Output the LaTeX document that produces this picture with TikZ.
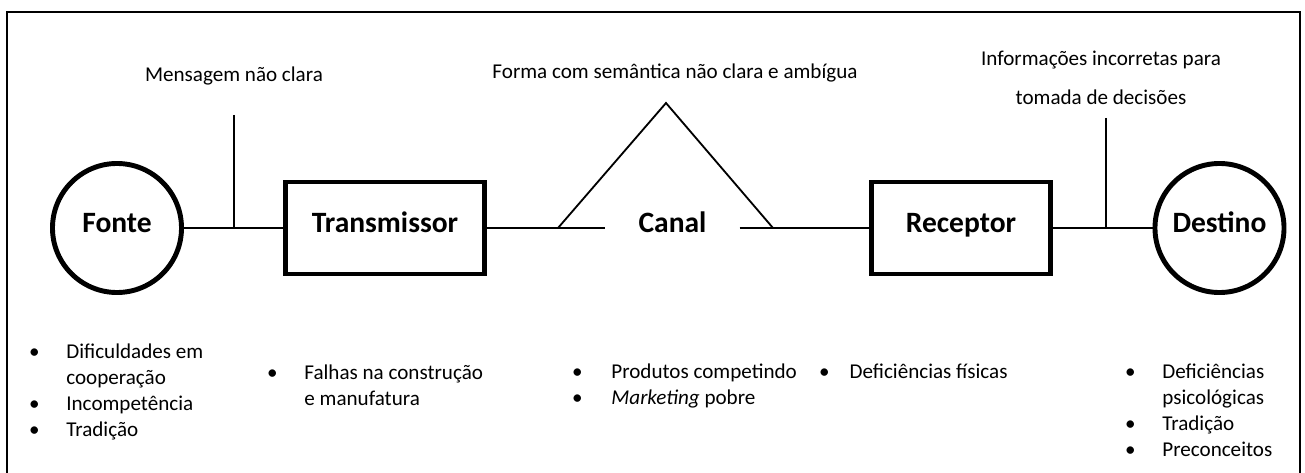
\documentclass[tikz,border=0pt]{standalone}
\usepackage{fontspec}
\setmainfont{Carlito}
\usetikzlibrary{positioning}

\begin{document}
\begin{tikzpicture}[x=0.025cm, y=0.025cm, thick]

   \tikzstyle{circ}=[circle, draw, line width=3.5pt, minimum size=3.225cm, inner sep=0pt, text height=0.65em, text depth=0pt, font=\fontsize{21}{24}\selectfont\bfseries]
   \tikzstyle{bloco}=[rectangle, draw, line width=3.5pt, minimum height=2.3cm, inner sep=0pt, text height=0.65em, text depth=0pt, font=\fontsize{21}{24}\selectfont\bfseries]
   \tikzstyle{rotulo}=[inner sep=0pt, align=center, font=\fontsize{15}{27.6}\selectfont]
   \tikzstyle{lista}=[anchor=north west, inner sep=0pt, font=\fontsize{15}{18.4}\selectfont]
   \tikzstyle{fio}=[line width=1.3pt]

   \useasboundingbox (0,0) rectangle (1305,-473);
   \draw[line width=1.5pt] (7,-473) -- (7,-12) -- (1300,-12) -- (1300,-473);

   % elementos do processo
   \node[circ] (fonte) at (117,-228) {Fonte};
   \node[bloco, minimum width=4.975cm] (trans) at (385,-228) {Transmissor};
   \node[bloco, minimum width=4.475cm] (recep) at (961,-228) {Receptor};
   \node[circ] (destino) at (1219.5,-228) {Destino};
   \node[inner sep=0pt, minimum width=3.325cm, text height=0.65em, text depth=0pt, font=\fontsize{21}{24}\selectfont\bfseries] (canal) at (672.5,-228) {Canal};

   % canal
   \coordinate (pe1) at (558,-228);
   \coordinate (topo) at (666,-103);
   \coordinate (pe2) at (773,-228);
   \draw[fio] (fonte) -- (trans);
   \draw[fio] (trans) -- (pe1) -- (canal.west);
   \draw[fio] (canal.east) -- (pe2) -- (recep);
   \draw[fio] (pe1) -- (topo) -- (pe2);
   \draw[fio] (recep) -- (destino);

   % ruidos
   \coordinate (r1) at (234,-115);
   \coordinate (r2) at (1106,-118);
   \draw[fio] (r1) -- (r1 |- fonte.east);
   \draw[fio] (r2) -- (r2 |- destino.west);
   \node[rotulo] (lmsg) at (234,-76) {Mensagem não clara};
   \node[rotulo] (lforma) at (675,-73) {Forma com semântica não clara e ambígua};
   \node[rotulo] (linfo) at (1101,-77.5) {Informações incorretas para\\tomada de decisões};

   % listas
   \node[lista] (lfonte) at (28.5,-340) {\begin{tabular}{@{}l@{\hspace{0.67cm}}l@{}}
      \textbullet & Dificuldades em\\ & cooperação\\ \textbullet & Incompetência\\ \textbullet & Tradição
   \end{tabular}};
   \node[lista] (ltrans) at (266.5,-361) {\begin{tabular}{@{}l@{\hspace{0.67cm}}l@{}}
      \textbullet & Falhas na construção\\ & e manufatura
   \end{tabular}};
   \node[lista] (lcanal) at (571.5,-360) {\begin{tabular}{@{}l@{\hspace{0.72cm}}l@{}}
      \textbullet & Produtos competindo\\ \textbullet & \textit{Marketing} pobre
   \end{tabular}};
   \node[lista] (lrecep) at (818.5,-360) {\begin{tabular}{@{}l@{\hspace{0.5cm}}l@{}}
      \textbullet & Deficiências físicas
   \end{tabular}};
   \node[lista] (ldestino) at (1124.5,-360) {\begin{tabular}{@{}l@{\hspace{0.67cm}}l@{}}
      \textbullet & Deficiências\\ & psicológicas\\ \textbullet & Tradição\\ \textbullet & Preconceitos
   \end{tabular}};
\end{tikzpicture}
\end{document}
